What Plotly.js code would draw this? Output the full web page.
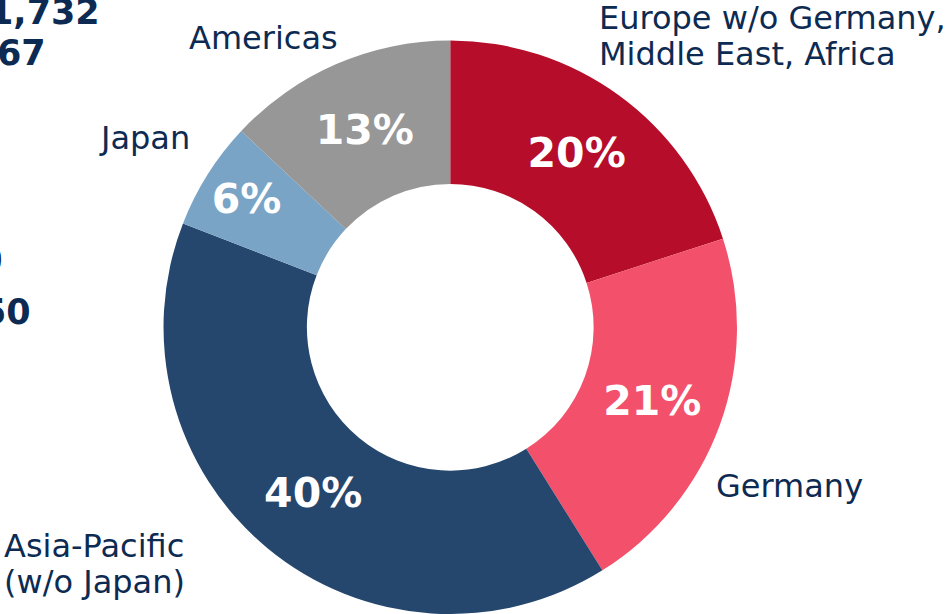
<!DOCTYPE html>
<html>
<head>
<meta charset="utf-8">
<script src="https://cdn.plot.ly/plotly-3.0.1.min.js"></script>
<style>html,body{margin:0;padding:0;background:#fff;}#chart{width:951px;height:614px;}</style>
</head>
<body>
<div id="chart"></div>
<script>
// Data
const regions = ["Europe w/o Germany, Middle East, Africa", "Germany", "Asia-Pacific (w/o Japan)", "Japan", "Americas"];
const regionLabelLines = [["Europe w/o Germany,", "Middle East, Africa"], ["Germany"], ["Asia-Pacific", "(w/o Japan)"], ["Japan"], ["Americas"]];
const shares = [20.0, 21.1, 39.8, 6.1, 13.0];
const sliceColors = ["#b50d2a", "#f3516b", "#25466d", "#7aa4c6", "#979797"];
// Fragments of neighbouring text cut off at the left edge
const fragmentTexts = ["1,732", "67", "0", "50"];

const W = 951, H = 614;
const TXT = "#0d2b52";
const FONT = "DejaVu Sans, Verdana, sans-serif";
const px = x => x / W;
const py = y => (H - y) / H;

// label placement (layout only): x anchor and y of each line
const labelPos = [
  {x: 597, ys: [18, 54], xanchor: "left"},
  {x: 714, ys: [486], xanchor: "left"},
  {x: 2, ys: [546, 582], xanchor: "left"},
  {x: 192, ys: [138], xanchor: "right"},
  {x: 340, ys: [38], xanchor: "right"}
];
const fragPos = [
  {x: 102, y: 12, bold: true},
  {x: 48, y: 53, bold: true},
  {x: 5, y: 260, bold: false},
  {x: 33, y: 312, bold: true}
];

const annotations = [];
regionLabelLines.forEach((lines, i) => {
  const p = labelPos[i];
  lines.forEach((t, j) => {
    annotations.push({
      text: t, xref: "paper", yref: "paper", x: px(p.x), y: py(p.ys[j]),
      xanchor: p.xanchor, yanchor: "middle", align: p.xanchor, showarrow: false,
      font: {family: FONT, size: 32, color: TXT}
    });
  });
});
fragmentTexts.forEach((t, i) => {
  const p = fragPos[i];
  annotations.push({
    text: p.bold ? "<b>" + t + "</b>" : t, xref: "paper", yref: "paper", x: px(p.x), y: py(p.y),
    xanchor: "right", yanchor: "middle", showarrow: false,
    font: {family: FONT, size: 35, color: TXT}
  });
});

const trace = {
  type: "pie",
  labels: regions,
  values: shares,
  hole: 0.5,
  sort: false,
  direction: "clockwise",
  rotation: 0,
  marker: {colors: sliceColors, line: {width: 0}},
  textinfo: "percent",
  texttemplate: "<b>%{percent:.0%}</b>",
  textposition: "inside",
  insidetextorientation: "horizontal",
  insidetextfont: {family: FONT, size: 41, color: "#ffffff"},
  domain: {x: [0.1714, 0.7755], y: [0, 0.934]},
  hoverinfo: "label+percent",
  showlegend: false
};

Plotly.newPlot("chart", [trace], {
  width: W, height: H,
  margin: {l: 0, r: 0, t: 0, b: 0},
  paper_bgcolor: "#ffffff",
  showlegend: false,
  annotations: annotations
}, {displayModeBar: false, staticPlot: true});
</script>
</body>
</html>
